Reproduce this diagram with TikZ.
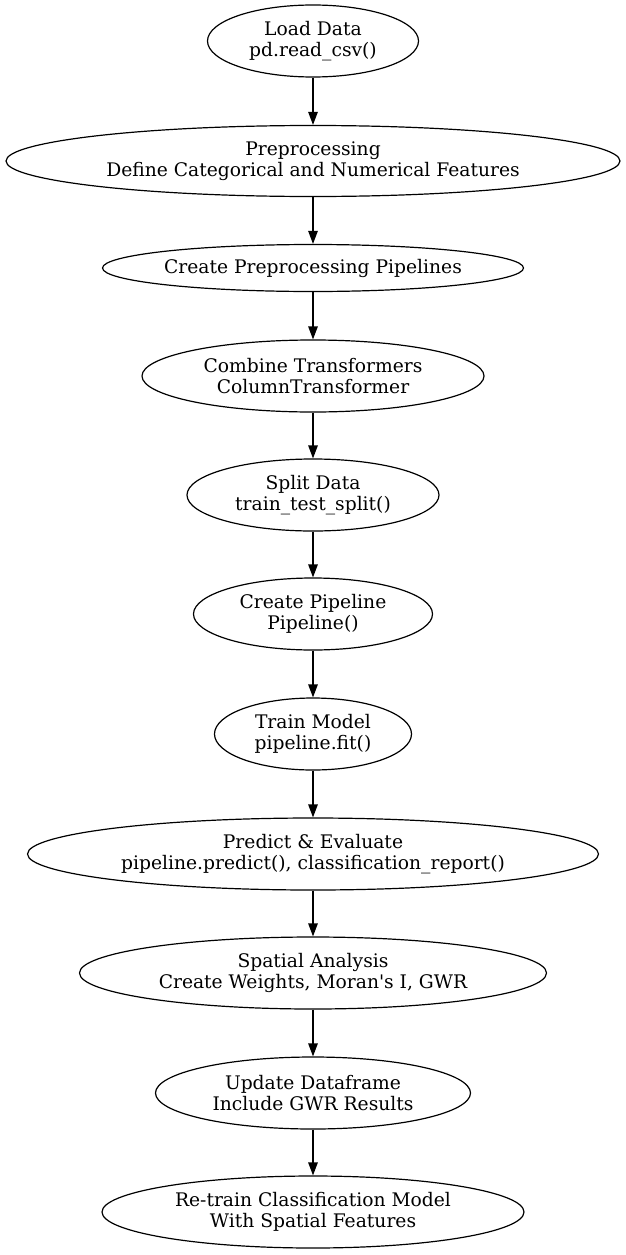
\documentclass[tikz,border=0pt]{standalone}
\usepackage{fontspec}
\newfontfamily\nodefont{DejaVu Serif}
\usetikzlibrary{shapes.geometric,arrows.meta}
\begin{document}
\begin{tikzpicture}[x=1pt,y=1pt,
  box/.style={ellipse,draw,line width=1.2pt,inner sep=0pt,align=center,
    font=\nodefont\fontsize{18.7}{20.5}\selectfont},
  conn/.style={line width=1.2pt,-{Triangle[length=13pt,width=9.5pt]}}]
\useasboundingbox (0,0) rectangle (625,-1255);
\node[box,minimum width=211pt,minimum height=72pt] (n1) at (313,-41) {Load Data\\pd.read\_csv()};
\node[box,minimum width=614pt,minimum height=71pt] (n2) at (313,-161) {Preprocessing\\Define Categorical and Numerical Features};
\node[box,minimum width=418pt,minimum height=47pt] (n3) at (313,-268) {Create Preprocessing Pipelines};
\node[box,minimum width=342pt,minimum height=72pt] (n4) at (313,-376) {Combine Transformers\\ColumnTransformer};
\node[box,minimum width=252pt,minimum height=72pt] (n5) at (313,-495) {Split Data\\train\_test\_split()};
\node[box,minimum width=239pt,minimum height=72pt] (n6) at (313,-614) {Create Pipeline\\Pipeline()};
\node[box,minimum width=197pt,minimum height=72pt] (n7) at (313,-734) {Train Model\\pipeline.fit()};
\node[box,minimum width=571pt,minimum height=72pt] (n8) at (313,-854) {Predict \& Evaluate\\pipeline.predict(), classification\_report()};
\node[box,minimum width=467pt,minimum height=72pt] (n9) at (313,-973) {Spatial Analysis\\Create Weights, Moran's I, GWR};
\node[box,minimum width=315pt,minimum height=72pt] (n10) at (313,-1093) {Update Dataframe\\Include GWR Results};
\node[box,minimum width=422pt,minimum height=72pt] (n11) at (313,-1212) {Re-train Classification Model\\With Spatial Features};
\foreach \a/\b in {n1/n2,n2/n3,n3/n4,n4/n5,n5/n6,n6/n7,n7/n8,n8/n9,n9/n10,n10/n11}
  \draw[conn] (\a) -- (\b);
\end{tikzpicture}
\end{document}
